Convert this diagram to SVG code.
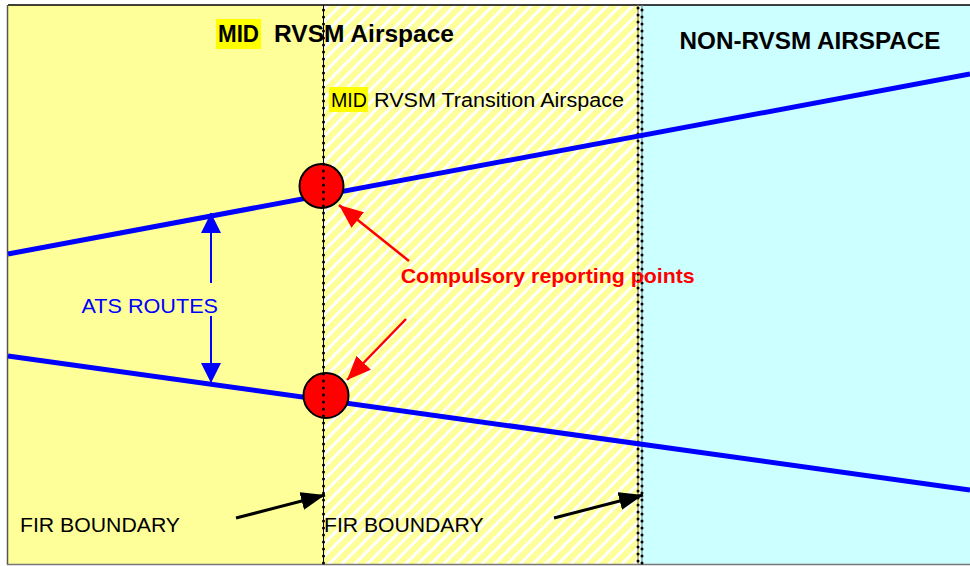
<svg xmlns="http://www.w3.org/2000/svg" width="970" height="566" viewBox="0 0 970 566">
<style>
text{font-family:"Liberation Sans",Arial,sans-serif}
.b{font-weight:bold}
.route{stroke:#0000FF;stroke-width:5;fill:none}
.blue{stroke:#0000FF;stroke-width:2;fill:none}
.red{stroke:#FF0000;stroke-width:2.5;fill:none}
.blk{stroke:#000;stroke-width:3;fill:none}
.dots{stroke:#000;stroke-width:3;stroke-linecap:round;stroke-dasharray:0 7;fill:none}
.rp{fill:#FF0000;stroke:#000;stroke-width:2}
</style>
<defs>
<pattern id="hatch" patternUnits="userSpaceOnUse" width="9" height="9" patternTransform="rotate(45)">
<rect width="9" height="9" fill="#FFFF99"/>
<rect width="3" height="9" fill="#FFFFFF"/>
</pattern>
<marker id="ahBlue" markerUnits="userSpaceOnUse" markerWidth="20" markerHeight="20" refX="20" refY="10" orient="auto">
<path d="M0,0 L20,10 L0,20 z" fill="#0000FF"/>
</marker>
<marker id="ahRed" markerUnits="userSpaceOnUse" markerWidth="24" markerHeight="20" refX="24" refY="10" orient="auto">
<path d="M0,0 L24,10 L0,20 z" fill="#FF0000"/>
</marker>
<marker id="ahBlk" markerUnits="userSpaceOnUse" markerWidth="24" markerHeight="18" refX="24" refY="9" orient="auto">
<path d="M0,0 L24,9 L0,18 z" fill="#000"/>
</marker>
</defs>

<g id="region-rvsm">
<rect x="8" y="5" width="315" height="559" fill="#FFFF99"/>
</g>
<g id="region-transition">
<rect x="323" y="5" width="317" height="559" fill="url(#hatch)"/>
</g>
<g id="region-nonrvsm">
<rect x="640" y="5" width="330" height="559" fill="#CCFFFF"/>
</g>
<g id="frame">
<line x1="8" y1="5" x2="970" y2="5" stroke="#000" stroke-width="1.5"/>
<line x1="7.5" y1="5" x2="7.5" y2="565" stroke="#555" stroke-width="1.5"/>
<line x1="7" y1="564.5" x2="970" y2="564.5" stroke="#777" stroke-width="1.5"/>
</g>

<g id="fir-boundary-1-line">
<line x1="323.5" y1="5" x2="323.5" y2="564" stroke="#000" stroke-width="1"/>
</g>
<g id="fir-boundary-2-line">
<line x1="638" y1="5" x2="638" y2="564" stroke="#888" stroke-width="1.2"/>
<line x1="642" y1="5" x2="642" y2="564" stroke="#888" stroke-width="1.2"/>
<line x1="638" y1="8" x2="638" y2="564" class="dots" stroke-width="2.2" stroke-dasharray="0 4"/>
<line x1="642" y1="10" x2="642" y2="564" class="dots" stroke-width="2.2" stroke-dasharray="0 4"/>
</g>

<g id="connectors">
<line class="route" x1="8" y1="254" x2="970" y2="74"/>
<line class="route" x1="8" y1="356" x2="970" y2="490"/>
<line class="blue" x1="211" y1="283" x2="211" y2="213" marker-end="url(#ahBlue)"/>
<line class="blue" x1="211" y1="316" x2="211" y2="383" marker-end="url(#ahBlue)"/>
<line class="red" x1="409" y1="261" x2="339" y2="205" marker-end="url(#ahRed)"/>
<line class="red" x1="406" y1="319" x2="347" y2="380" marker-end="url(#ahRed)"/>
<line class="blk" x1="236" y1="518" x2="325" y2="495" marker-end="url(#ahBlk)"/>
<line class="blk" x1="554" y1="518" x2="643" y2="495" marker-end="url(#ahBlk)"/>
</g>

<g id="reporting-point-1">
<circle class="rp" cx="321.5" cy="186" r="22"/>
</g>
<g id="reporting-point-2">
<circle class="rp" cx="326" cy="395.5" r="22.5"/>
</g>
<g id="fir-boundary-1-dots">
<line class="dots" x1="323.5" y1="10" x2="323.5" y2="564"/>
</g>

<g id="title-rvsm">
<rect x="216" y="19" width="45" height="30" fill="#FFFF00"/>
<text class="b" x="218" y="42.3" font-size="23" textLength="41" lengthAdjust="spacingAndGlyphs">MID</text>
<text class="b" x="274" y="42.3" font-size="23" textLength="180" lengthAdjust="spacingAndGlyphs">RVSM Airspace</text>
</g>
<g id="title-transition">
<rect x="329" y="87" width="39" height="25" fill="#FFFF00"/>
<text x="331" y="106.7" font-size="20" textLength="36" lengthAdjust="spacingAndGlyphs">MID</text>
<text x="374" y="106.7" font-size="20" textLength="250" lengthAdjust="spacingAndGlyphs">RVSM Transition Airspace</text>
</g>
<g id="title-nonrvsm">
<text class="b" x="679.5" y="49.3" font-size="23" textLength="261" lengthAdjust="spacingAndGlyphs">NON-RVSM AIRSPACE</text>
</g>
<g id="label-ats-routes">
<text x="81.5" y="313" font-size="21" fill="#0000FF" textLength="136.5" lengthAdjust="spacingAndGlyphs">ATS ROUTES</text>
</g>
<g id="label-reporting-points">
<text class="b" x="400.7" y="282.7" font-size="21" fill="#FF0000" textLength="294" lengthAdjust="spacingAndGlyphs">Compulsory reporting points</text>
</g>
<g id="label-fir-1">
<text x="20" y="531.7" font-size="21" textLength="160" lengthAdjust="spacingAndGlyphs">FIR BOUNDARY</text>
</g>
<g id="label-fir-2">
<text x="324" y="531.7" font-size="21" textLength="159.5" lengthAdjust="spacingAndGlyphs">FIR BOUNDARY</text>
</g>
</svg>
